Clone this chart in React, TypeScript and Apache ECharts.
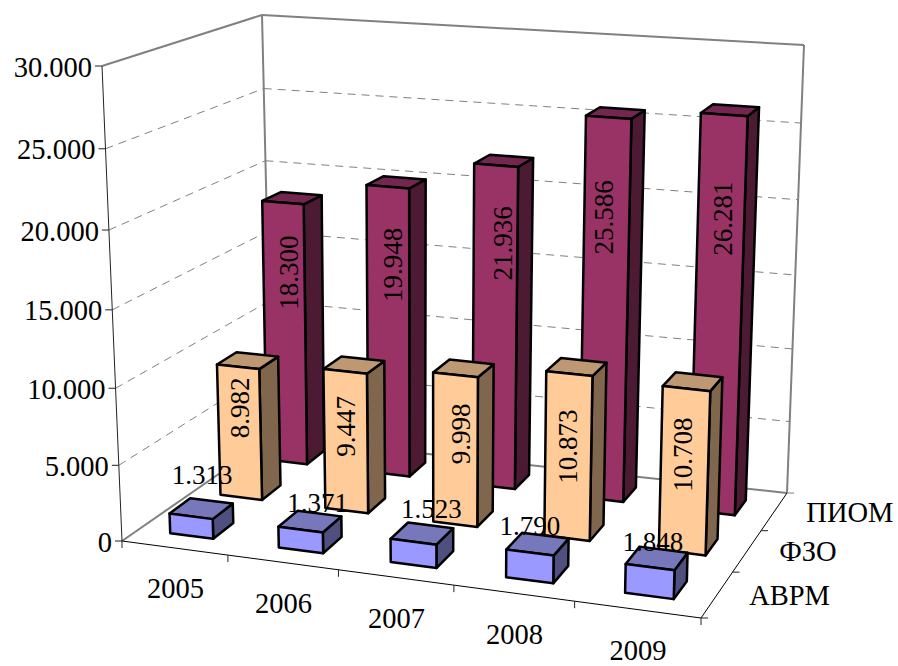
import React, { useEffect, useRef } from "react";
import * as echarts from "echarts";

const categories = ["2005", "2006", "2007", "2008", "2009"];
const depthNames = ["АВРМ", "ФЗО", "ПИОМ"];
const avrm = [1313, 1371, 1523, 1790, 1848];
const fzo = [8982, 9447, 9998, 10873, 10708];
const piom = [18300, 19948, 21936, 25586, 26281];
const valueTicks = [0, 5000, 10000, 15000, 20000, 25000, 30000];

// Layout only: label centre offset from the top-centre of each bar's front face.
const labelOffsets = [
  [[11, -41], [17, -27], [18, -33], [0, -27], [3, -25]],
  [[2, 41], [1, 55], [6, 59], [-1, 73], [-3, 66]],
  [[6, 70], [5, 78], [7, 78], [-5, 100], [-1, 104]],
];
const palette = [
  { front: "#9999FF", top: "#7777BB", side: "#505080" },
  { front: "#FFCC99", top: "#BE9872", side: "#80664D" },
  { front: "#993366", top: "#732650", side: "#4D1A33" },
];

const FONT = "'Liberation Serif'";
const FS_AXIS = 28.5;
const FS_LABEL = 27;
const GRID = { left: 10, top: 10, width: 500, height: 500 };

// Perspective frame of the chart box: corners of the floor and of the top plane
const wallFloorQuad = [[122, 541], [701, 618], [787, 493], [272, 437]];
const barFloorQuad = [[122, 541], [701, 618], [787, 493], [268, 433]];
const topQuad = [[102, 66], [715, 117], [804, 45], [262, 15]];
const DEPTH_K = 0.055;

function homography(q: number[][]) {
  const [p0, p1, p2, p3] = q;
  const dx1 = p1[0] - p2[0], dx2 = p3[0] - p2[0], sx = p0[0] - p1[0] + p2[0] - p3[0];
  const dy1 = p1[1] - p2[1], dy2 = p3[1] - p2[1], sy = p0[1] - p1[1] + p2[1] - p3[1];
  const den = dx1 * dy2 - dx2 * dy1;
  const g = (sx * dy2 - dx2 * sy) / den;
  const h = (dx1 * sy - sx * dy1) / den;
  return (u: number, v: number) => {
    const d = g * u + h * v + 1;
    return [
      ((p1[0] - p0[0] + g * p1[0]) * u + (p3[0] - p0[0] + h * p3[0]) * v + p0[0]) / d,
      ((p1[1] - p0[1] + g * p1[1]) * u + (p3[1] - p0[1] + h * p3[1]) * v + p0[1]) / d,
    ];
  };
}
const wallFloor = homography(wallFloorQuad);
const barFloor = homography(barFloorQuad);
function projectOn(floor: (u: number, v: number) => number[], quad: number[][]) {
  return (u: number, v: number, w: number): number[] => {
    const a = floor(u, v);
    const rise = [0, 1].map((k) => {
      const d0 = topQuad[0][k] - quad[0][k], d1 = topQuad[1][k] - quad[1][k];
      const d2 = topQuad[2][k] - quad[2][k], d3 = topQuad[3][k] - quad[3][k];
      return (d0 * (1 - u) + d1 * u) * (1 - v) + (d3 * (1 - u) + d2 * u) * v;
    });
    const f = w / (1 + DEPTH_K * (1 - w));
    return [a[0] + rise[0] * f, a[1] + rise[1] * f];
  };
}
const project = projectOn(wallFloor, wallFloorQuad);
const projectBar = projectOn(barFloor, barFloorQuad);
const toU = (px: number) => (px - GRID.left) / GRID.width;
const toW = (py: number) => (GRID.top + GRID.height - py) / GRID.height;

function textEl(text: string, x: number, y: number, align: string, rotation = 0, fontSize = FS_AXIS) {
  return {
    type: "text", x, y, rotation, silent: true,
    style: { text, fontFamily: FONT, fontSize, fill: "#000", align, verticalAlign: "middle" },
  };
}
function lineEl(a: number[], b: number[], stroke: string, lineWidth: number, lineDash?: number[]) {
  return {
    type: "line", silent: true,
    shape: { x1: a[0], y1: a[1], x2: b[0], y2: b[1] },
    style: { stroke, lineWidth, lineDash: lineDash || null },
  };
}

function renderWall(params: any, api: any) {
  const py = api.coord([0, api.value(0)])[1];
  const w = toW(py);
  const kids: any[] = [];
  const f = project(0, 0, w), bl = project(0, 1, w), br = project(1, 1, w);
  if (w > 0.001 && w < 0.999) {
    kids.push(lineEl(f, bl, "#808080", 1, [8, 6]), lineEl(bl, br, "#808080", 1, [8, 6]));
  } else {
    kids.push(lineEl(f, bl, "#808080", 2), lineEl(bl, br, "#808080", 2));
  }
  kids.push(lineEl([f[0] - 7, f[1]], f, "#222", 1));
  const label = api.value(0) === 0 ? "0" : api.value(0).toLocaleString("de-DE");
  kids.push(textEl(label, f[0] - 10, f[1] + 1, "right"));
  return { type: "group", children: kids };
}

function renderFrame() {
  return {
    type: "group",
    children: [
      lineEl(project(0, 1, 0), project(0, 1, 1), "#808080", 2),
      lineEl(project(1, 1, 0), project(1, 1, 1), "#808080", 2),
      lineEl(project(0, 0, 0), project(1, 0, 0), "#000", 1),
      lineEl(project(1, 0, 0), project(1, 1, 0), "#000", 1),
      lineEl(project(0, 0, 0), project(0, 0, 1), "#222", 1),
    ],
  };
}

function renderCategoryTick(params: any, api: any) {
  const i = params.dataIndex;
  const cx = api.coord([i, 0])[0];
  const bw = api.size([1, 0])[0];
  const kids: any[] = [];
  const mid = project(toU(cx), 0, 0);
  kids.push(textEl(categories[i], mid[0] + 1, mid[1] + 41, "center"));
  const t1 = project(toU(cx - bw / 2), 0, 0);
  kids.push(lineEl(t1, [t1[0], t1[1] + 7], "#222", 1));
  if (i === categories.length - 1) {
    const t2 = project(toU(cx + bw / 2), 0, 0);
    kids.push(lineEl(t2, [t2[0], t2[1] + 7], "#222", 1));
  }
  return { type: "group", children: kids };
}

function renderDepthTick(params: any) {
  const s = params.dataIndex;
  const kids: any[] = [];
  const mid = project(1, (s + 0.5) / 3, 0);
  kids.push(textEl(depthNames[s], mid[0] + 32, mid[1] + 1, "left"));
  const t = project(1, s / 3, 0);
  kids.push(lineEl(t, [t[0] + 7, t[1]], "#222", 1));
  if (s === 2) {
    const t2 = project(1, 1, 0);
    kids.push(lineEl(t2, [t2[0] + 7, t2[1]], "#808080", 1));
  }
  return { type: "group", children: kids };
}

function barGeometry(api: any, s: number) {
  const i = api.value(0);
  const [cx, py] = api.coord([i, api.value(1)]);
  const bw = api.size([1, 0])[0];
  const u0 = toU(cx - 0.2 * bw), u1 = toU(cx + 0.2 * bw);
  const v0 = (s + 0.3) / 3, v1 = (s + 0.7) / 3;
  return { u0, u1, v0, v1, w: toW(py) };
}

const makeBar = (s: number) => (params: any, api: any) => {
  const { u0, u1, v0, v1, w } = barGeometry(api, s);
  const col = palette[s];
  const style = (fill: string) => ({ fill, stroke: "#000", lineWidth: 2.5, lineJoin: "round" });
  const poly = (pts: number[][], fill: string) => ({
    type: "polygon", silent: true, shape: { points: pts }, style: style(fill),
  });
  const P = projectBar;
  return {
    type: "group",
    children: [
      poly([P(u1, v0, 0), P(u1, v1, 0), P(u1, v1, w), P(u1, v0, w)], col.side),
      poly([P(u0, v0, w), P(u1, v0, w), P(u1, v1, w), P(u0, v1, w)], col.top),
      poly([P(u0, v0, 0), P(u1, v0, 0), P(u1, v0, w), P(u0, v0, w)], col.front),
    ],
  };
};

const makeLabel = (s: number) => (params: any, api: any) => {
  const { u0, u1, v0, w } = barGeometry(api, s);
  const top = projectBar((u0 + u1) / 2, v0, w);
  const [dx, dy] = labelOffsets[s][params.dataIndex];
  const txt = api.value(1).toLocaleString("de-DE");
  return textEl(txt, top[0] + dx, top[1] + dy, "center", s === 0 ? 0 : Math.PI / 2, FS_LABEL);
};

const seriesValues = [avrm, fzo, piom];
const pairs = (arr: number[]) => arr.map((v, i) => [i, v]);
const custom = (renderItem: any, data: any[]) => ({
  type: "custom", coordinateSystem: "cartesian2d", renderItem, data, clip: false,
  encode: { x: 0, y: 1 }, silent: true,
});

export default function App() {
  const ref = useRef<HTMLDivElement>(null);
  useEffect(() => {
    document.body.style.margin = "0";
    const chart = echarts.init(ref.current!, undefined, { renderer: "svg" });
    chart.setOption({
      animation: false,
      backgroundColor: "#fff",
      grid: { ...GRID, show: false },
      xAxis: { type: "category", data: categories, show: false },
      yAxis: { type: "value", min: 0, max: 30000, interval: 5000, show: false },
      series: [
        { ...custom(renderWall, valueTicks.map((v) => [v])), encode: { y: 0 } },
        custom(renderFrame, [[0, 0]]),
        custom(renderCategoryTick, pairs(categories.map(() => 0))),
        custom(renderDepthTick, depthNames.map((_, i) => [i, 0])),
        custom(makeBar(2), pairs(seriesValues[2])),
        custom(makeBar(1), pairs(seriesValues[1])),
        custom(makeBar(0), pairs(seriesValues[0])),
        custom(makeLabel(2), pairs(seriesValues[2])),
        custom(makeLabel(1), pairs(seriesValues[1])),
        custom(makeLabel(0), pairs(seriesValues[0])),
      ],
    });
    return () => chart.dispose();
  }, []);
  return <div ref={ref} style={{ width: 898, height: 666 }} />;
}
